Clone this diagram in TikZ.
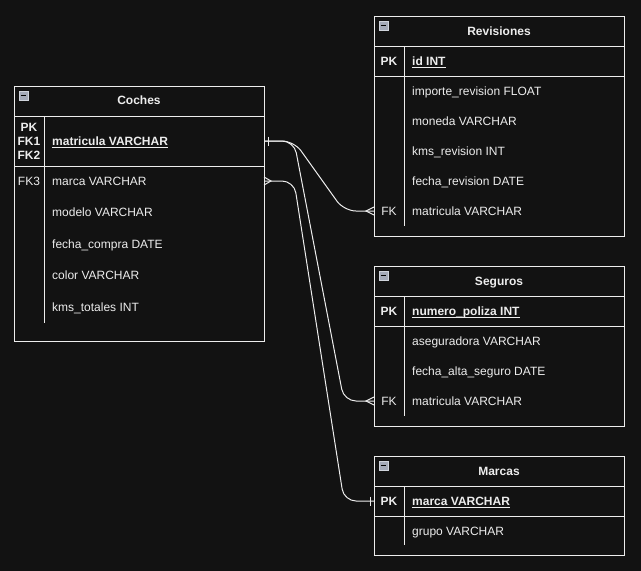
\documentclass[tikz,border=0pt]{standalone}
\usepackage{fontspec}
\setmainfont{Liberation Sans}
\definecolor{bg}{HTML}{121212}
\definecolor{fg}{HTML}{EDEDED}
\definecolor{iconfill}{HTML}{A4AAB8}
\definecolor{iconline}{HTML}{D0D4DC}
\begin{document}
\begin{tikzpicture}[x=1pt,y=-1pt,
  tbl/.style={draw=fg, line width=1pt},
  tblbox/.style={draw=fg, line width=1pt, rectangle, inner sep=0pt, outer sep=0pt, anchor=north west, minimum width=250pt},
  txt/.style={text=fg, font=\fontsize{12}{14}\selectfont, inner sep=0pt, anchor=base west},
  ttl/.style={text=fg, font=\fontsize{12}{14}\selectfont\bfseries, inner sep=0pt, anchor=base},
  keytxt/.style={text=fg, font=\fontsize{12}{14}\selectfont\bfseries, inner sep=0pt, anchor=base},
  fktxt/.style={text=fg, font=\fontsize{12}{14}\selectfont, inner sep=0pt, anchor=base},
  rowbox/.style={rectangle, minimum width=250pt, inner sep=0pt, outer sep=0pt},
  rel/.style={draw=fg, line width=1pt, rounded corners=12pt},
  relmark/.style={draw=fg, line width=1pt},
  icon/.style={fill=iconfill, draw=iconline, line width=0.6pt}
]
\fill[bg] (0,0) rectangle (641,571);
\useasboundingbox (0,0) rectangle (641,571);

% ---------- Coches ----------
\node[tblbox, minimum height=255pt] (coches) at (14,86) {};
\draw[tbl] (14,116) -- (264,116);
\draw[tbl] (14,166) -- (264,166);
\draw[tbl] (44,116) -- (44,323);
\filldraw[icon] (19,91) rectangle (28,100);
\draw[black, line width=1.2pt] (20.8,95.5) -- (26.2,95.5);
\node[ttl] (cT) at (139,104.3) {Coches};
\node[keytxt] (cK1) at (29,131.3) {PK};
\node[keytxt] (cK2) at (29,145.3) {FK1};
\node[keytxt] (cK3) at (29,159.3) {FK2};
\node[txt, font=\fontsize{12}{14}\selectfont\bfseries] (cR1) at (52,145.3) {\underline{\smash{matricula VARCHAR}}};
\node[fktxt] (cK4) at (29,185.3) {FK3};
\node[txt] (cR2) at (52,185.3) {marca VARCHAR};
\node[txt] (cR3) at (52,216.5) {modelo VARCHAR};
\node[txt] (cR4) at (52,248) {fecha\_compra DATE};
\node[txt] (cR5) at (52,279.5) {color VARCHAR};
\node[txt] (cR6) at (52,311.3) {kms\_totales INT};
\node[rowbox, minimum height=50pt] (cPK) at (139,141) {};
\node[rowbox, minimum height=30pt] (cFK3) at (139,181) {};

% ---------- Revisiones ----------
\node[tblbox, minimum height=220pt] (revisiones) at (374,16) {};
\draw[tbl] (374,46) -- (624,46);
\draw[tbl] (374,76) -- (624,76);
\draw[tbl] (404,46) -- (404,226);
\filldraw[icon] (379,21) rectangle (388,30);
\draw[black, line width=1.2pt] (380.8,25.5) -- (386.2,25.5);
\node[ttl] (rT) at (499,35.3) {Revisiones};
\node[keytxt] (rK1) at (389,65.3) {PK};
\node[txt, font=\fontsize{12}{14}\selectfont\bfseries] (rR1) at (412,65.3) {\underline{\smash{id INT}}};
\node[txt] (rR2) at (412,95.3) {importe\_revision FLOAT};
\node[txt] (rR3) at (412,125.3) {moneda VARCHAR};
\node[txt] (rR4) at (412,155.3) {kms\_revision INT};
\node[txt] (rR5) at (412,185.3) {fecha\_revision DATE};
\node[fktxt] (rK2) at (389,215.3) {FK};
\node[txt] (rR6) at (412,215.3) {matricula VARCHAR};
\node[rowbox, minimum height=30pt] (rFK) at (499,211) {};

% ---------- Seguros ----------
\node[tblbox, minimum height=160pt] (seguros) at (374,266) {};
\draw[tbl] (374,296) -- (624,296);
\draw[tbl] (374,326) -- (624,326);
\draw[tbl] (404,296) -- (404,416);
\filldraw[icon] (379,271) rectangle (388,280);
\draw[black, line width=1.2pt] (380.8,275.5) -- (386.2,275.5);
\node[ttl] (sT) at (499,285.3) {Seguros};
\node[keytxt] (sK1) at (389,315.3) {PK};
\node[txt, font=\fontsize{12}{14}\selectfont\bfseries] (sR1) at (412,315.3) {\underline{\smash{numero\_poliza INT}}};
\node[txt] (sR2) at (412,345.3) {aseguradora VARCHAR};
\node[txt] (sR3) at (412,375.3) {fecha\_alta\_seguro DATE};
\node[fktxt] (sK2) at (389,405.3) {FK};
\node[txt] (sR4) at (412,405.3) {matricula VARCHAR};
\node[rowbox, minimum height=30pt] (sFK) at (499,401) {};

% ---------- Marcas ----------
\node[tblbox, minimum height=99pt] (marcas) at (374,456) {};
\draw[tbl] (374,486) -- (624,486);
\draw[tbl] (374,516) -- (624,516);
\draw[tbl] (404,486) -- (404,545);
\filldraw[icon] (379,461) rectangle (388,470);
\draw[black, line width=1.2pt] (380.8,465.5) -- (386.2,465.5);
\node[ttl] (mT) at (499,475.3) {Marcas};
\node[keytxt] (mK1) at (389,505.3) {PK};
\node[txt, font=\fontsize{12}{14}\selectfont\bfseries] (mR1) at (412,505.3) {\underline{\smash{marca VARCHAR}}};
\node[txt] (mR2) at (412,535.3) {grupo VARCHAR};
\node[rowbox, minimum height=30pt] (mPK) at (499,501) {};

% ---------- Relations ----------
\draw[rel] (cPK.east) -- ++(30,0) -- ([xshift=-30pt]rFK.west) -- (rFK.west);
\draw[rel] (cPK.east) -- ++(30,0) -- ([xshift=-30pt]sFK.west) -- (sFK.west);
\draw[rel] (cFK3.east) -- ++(30,0) -- ([xshift=-30pt]mPK.west) -- (mPK.west);

% markers
\draw[relmark] ([xshift=4pt,yshift=4.5pt]cPK.east) -- ([xshift=4pt,yshift=-4.5pt]cPK.east);
\draw[relmark] ([yshift=4pt]rFK.west) -- ([xshift=-8pt]rFK.west) -- ([yshift=-4pt]rFK.west);
\draw[relmark] ([yshift=4pt]sFK.west) -- ([xshift=-8pt]sFK.west) -- ([yshift=-4pt]sFK.west);
\draw[relmark] ([yshift=4pt]cFK3.east) -- ([xshift=7pt]cFK3.east) -- ([yshift=-4pt]cFK3.east);
\draw[relmark] ([xshift=-4pt,yshift=4.5pt]mPK.west) -- ([xshift=-4pt,yshift=-4.5pt]mPK.west);
\end{tikzpicture}
\end{document}
